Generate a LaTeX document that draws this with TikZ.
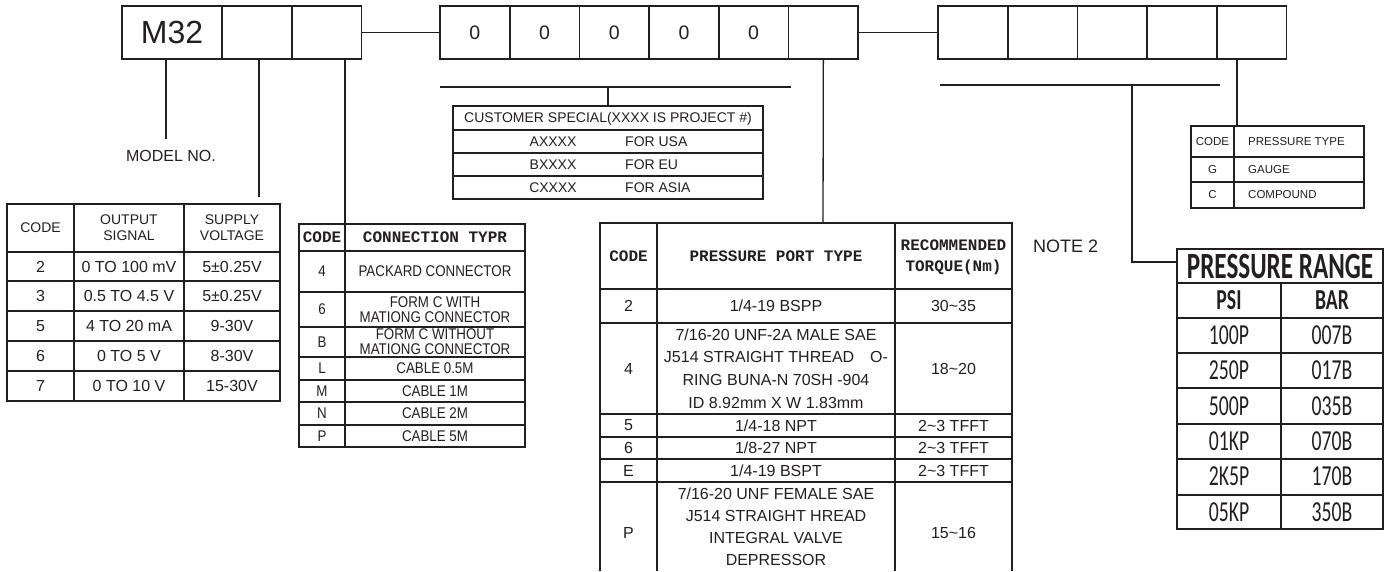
\documentclass[tikz,border=0pt]{standalone}
\usepackage{fontspec}
\setmainfont{Liberation Sans}
\newfontfamily\monohead{Liberation Mono}
\newfontfamily\narrowfont[FakeStretch=0.86]{Liberation Sans}
\newfontfamily\rangefont[FakeStretch=0.68]{Carlito}
\usepackage{xcolor}
\usepackage{tikz}
\usetikzlibrary{positioning}
\definecolor{ink}{HTML}{231F20}

\begin{document}
\begin{tikzpicture}[x=1pt, y=-1pt,
  cell/.style={
    draw=ink, line width=1.8pt, minimum width=69.7pt, minimum height=53pt,
    inner sep=0pt, outer sep=0pt, text=ink, font=\fontsize{19.5}{22}\selectfont
  },
  frame/.style={draw=ink, line width=1.8pt, inner sep=0pt, outer sep=0pt},
  rule/.style={ink, line width=1.6pt},
  lead/.style={ink, line width=1.3pt},
  txt/.style={text=ink, inner sep=0pt, align=center, font=\fontsize{16}{20}\selectfont},
  small/.style={txt, font=\fontsize{14}{16}\selectfont},
  tiny/.style={txt, font=\fontsize{11.5}{14}\selectfont},
  narrow/.style={txt, font=\narrowfont\fontsize{15.5}{15}\selectfont},
  mhead/.style={txt, font=\monohead\bfseries\fontsize{16}{21}\selectfont},
  rng/.style={txt, font=\rangefont\fontsize{29}{30}\selectfont}
]
\useasboundingbox (0,0) rectangle (1389,571);

% --- Part number boxes ---
\node[cell, minimum width=100pt, font=\fontsize{32}{34}\selectfont] (m32) at (172,32.5) {M32};
\node[cell, right=0pt of m32] (b2) {};
\node[cell, right=0pt of b2] (b3) {};
\foreach \i in {1,...,5}
  \node[cell] (z\i) at ({405.15+69.7*\i},32.5) {0};
\node[cell, right=0pt of z5] (z6) {};
\foreach \i in {1,...,5}
  \node[cell] (r\i) at ({903.15+69.7*\i},32.5) {};

\draw[lead] (b3.east) -- (z1.west);
\draw[lead] (z6.east) -- (r1.west);

% --- Table frames ---
\node[frame, minimum width=273pt, minimum height=197pt] (sigtab) at (143.5,302.5) {};
\node[frame, minimum width=226pt, minimum height=223pt] (contab) at (412,335.5) {};
\node[frame, minimum width=310pt, minimum height=93pt] (custab) at (608,152.5) {};
\node[frame, minimum width=173pt, minimum height=82pt] (typtab) at (1277.5,167) {};
\node[frame, minimum width=206pt, minimum height=280pt] (rngtab) at (1280,389) {};
\coordinate (porttop) at (823,223);
\draw[line width=1.8pt, ink] (600,571) |- (1012,223) -- (1012,571);

% --- Leader lines ---
\coordinate (modend) at (166,139);
\coordinate (sigend) at (259,197);
\coordinate (cusl) at (440,87);
\coordinate (cusr) at (791,87);
\coordinate (rngl) at (940,85);
\coordinate (rngr) at (1220,85);
\draw[lead] (166,0 |- m32.south) -- (modend);
\draw[lead] (259,0 |- b2.south) -- (sigend);
\draw[lead] (345,0 |- b3.south) -- (345,0 |- contab.north);
\draw[lead] (cusl) -- (cusr);
\draw[lead] (608,0 |- cusl) -- (custab.north);
\draw[lead] (z6.south) -- (porttop);
\draw[lead] (rngl) -- (rngr);
\draw[lead] (1132,0 |- rngl) |- (rngtab.west |- 0,262);
\draw[lead] (1237,0 |- r5.south) -- (1237,0 |- typtab.north);

\node[txt] (model) at (171,156) {MODEL NO.};
\node[txt, anchor=west, font=\fontsize{18}{20}\selectfont] (note) at (1033,246) {NOTE 2};

% --- Output signal / supply voltage ---
\foreach \x in {74,184} \draw[rule] (\x,0 |- sigtab.north) -- (\x,0 |- sigtab.south);
\foreach \y in {252,281,311,341,371} \draw[rule] (sigtab.west |- 0,\y) -- (sigtab.east |- 0,\y);
\node[small] (sigh1) at (40.5,228) {CODE};
\node[small] (sigh2) at (129,228) {OUTPUT\\SIGNAL};
\node[small] (sigh3) at (232,228) {SUPPLY\\VOLTAGE};
\foreach \c/\o/\v [count=\i] in {2/0 TO 100 mV/5±0.25V, 3/0.5 TO 4.5 V/5±0.25V,
    5/4 TO 20 mA/9-30V, 6/0 TO 5 V/8-30V, 7/0 TO 10 V/15-30V} {
  \node[txt] (sigc\i) at (40.5,{236.6+29.9*\i}) {\c};
  \node[txt] (sigo\i) at (129,{236.6+29.9*\i}) {\o};
  \node[txt] (sigv\i) at (232,{236.6+29.9*\i}) {\v};
}

% --- Connection type ---
\draw[rule] (345,0 |- contab.north) -- (345,0 |- contab.south);
\foreach \y in {251,292,327,357,380,402,425} \draw[rule] (contab.west |- 0,\y) -- (contab.east |- 0,\y);
\node[mhead] (conh1) at (322,237.5) {CODE};
\node[mhead] (conh2) at (435,237.5) {CONNECTION TYPR};
\foreach \c/\t/\y [count=\i] in {4/PACKARD CONNECTOR/271.5, 6/{FORM C WITH\\MATIONG CONNECTOR}/309.5,
    B/{FORM C WITHOUT\\MATIONG CONNECTOR}/342, L/CABLE 0.5M/368.5, M/CABLE 1M/391,
    N/CABLE 2M/413.5, P/CABLE 5M/436} {
  \node[narrow] (conc\i) at (322,\y) {\c};
  \node[narrow] (cont\i) at (435,\y) {\t};
}

% --- Customer special ---
\foreach \y in {130,153,176} \draw[rule] (custab.west |- 0,\y) -- (custab.east |- 0,\y);
\node[small] (cush) at (608,118.5) {CUSTOMER SPECIAL(XXXX IS PROJECT \#)};
\foreach \a/\b [count=\i] in {AXXXX/FOR USA, BXXXX/FOR EU, CXXXX/FOR ASIA} {
  \node[small] (cusa\i) at (553,{118.5+23*\i}) {\a};
  \node[small, anchor=west] (cusb\i) at (625,{118.5+23*\i}) {\b};
}

% --- Pressure port type ---
\foreach \x in {657,895} \draw[rule] (\x,223) -- (\x,571);
\foreach \y in {289,323,414,437,459,482} \draw[rule] (600,\y) -- (1012,\y);
\node[mhead] (porth1) at (628.5,256) {CODE};
\node[mhead] (porth2) at (776,256) {PRESSURE PORT TYPE};
\node[mhead] (porth3) at (953.5,257) {RECOMMENDED\\TORQUE(Nm)};
\node[txt] (portc1) at (628.5,306) {2};
\node[txt] (portd1) at (776,306) {1/4-19 BSPP};
\node[txt] (portt1) at (953.5,306) {30\textasciitilde35};
\node[txt] (portc2) at (628.5,368.5) {4};
\node[txt, font=\fontsize{16}{22.8}\selectfont] (portd2) at (776,368.5)
  {7/16-20 UNF-2A MALE SAE\\J514 STRAIGHT THREAD\quad O-\\RING BUNA-N 70SH -904\\ID 8.92mm X W 1.83mm};
\node[txt] (portt2) at (953.5,368.5) {18\textasciitilde20};
\node[txt] (portc3) at (628.5,425.5) {5};
\node[txt] (portd3) at (776,425.5) {1/4-18 NPT};
\node[txt] (portt3) at (953.5,425.5) {2\textasciitilde3 TFFT};
\node[txt] (portc4) at (628.5,448) {6};
\node[txt] (portd4) at (776,448) {1/8-27 NPT};
\node[txt] (portt4) at (953.5,448) {2\textasciitilde3 TFFT};
\node[txt] (portc5) at (628.5,470.5) {E};
\node[txt] (portd5) at (776,470.5) {1/4-19 BSPT};
\node[txt] (portt5) at (953.5,470.5) {2\textasciitilde3 TFFT};
\node[txt] (portc6) at (628.5,533) {P};
\node[txt, font=\fontsize{16}{22}\selectfont] (portd6) at (776,527)
  {7/16-20 UNF FEMALE SAE\\J514 STRAIGHT HREAD\\INTEGRAL VALVE\\DEPRESSOR};
\node[txt] (portt6) at (953.5,533) {15\textasciitilde16};

% --- Pressure type ---
\draw[rule] (1234,0 |- typtab.north) -- (1234,0 |- typtab.south);
\foreach \y in {157,182} \draw[rule] (typtab.west |- 0,\y) -- (typtab.east |- 0,\y);
\node[tiny] (typh1) at (1212.5,141.5) {CODE};
\node[tiny, anchor=west] (typh2) at (1248,141.5) {PRESSURE TYPE};
\node[tiny] (typc1) at (1212.5,169.5) {G};
\node[tiny, anchor=west] (typt1) at (1248,169.5) {GAUGE};
\node[tiny] (typc2) at (1212.5,195) {C};
\node[tiny, anchor=west] (typt2) at (1248,195) {COMPOUND};

% --- Pressure range ---
\draw[rule] (rngtab.west |- 0,283) -- (rngtab.east |- 0,283);
\draw[rule] (1281,283) -- (1281,0 |- rngtab.south);
\foreach \y in {318,353,388,424,459,495} \draw[rule] (rngtab.west |- 0,\y) -- (rngtab.east |- 0,\y);
\node[rng, font=\rangefont\bfseries\fontsize{37}{38}\selectfont] (rngh) at (1280,266) {PRESSURE RANGE};
\node[rng, font=\rangefont\bfseries\fontsize{29}{30}\selectfont] (rngp) at (1229,300.5) {PSI};
\node[rng, font=\rangefont\bfseries\fontsize{29}{30}\selectfont] (rngb) at (1332,300.5) {BAR};
\foreach \p/\b [count=\i] in {100P/007B, 250P/017B, 500P/035B, 01KP/070B, 2K5P/170B, 05KP/350B} {
  \node[rng] (rngp\i) at (1229,{300+35.3*\i}) {\p};
  \node[rng] (rngb\i) at (1332,{300+35.3*\i}) {\b};
}

\end{tikzpicture}
\end{document}
